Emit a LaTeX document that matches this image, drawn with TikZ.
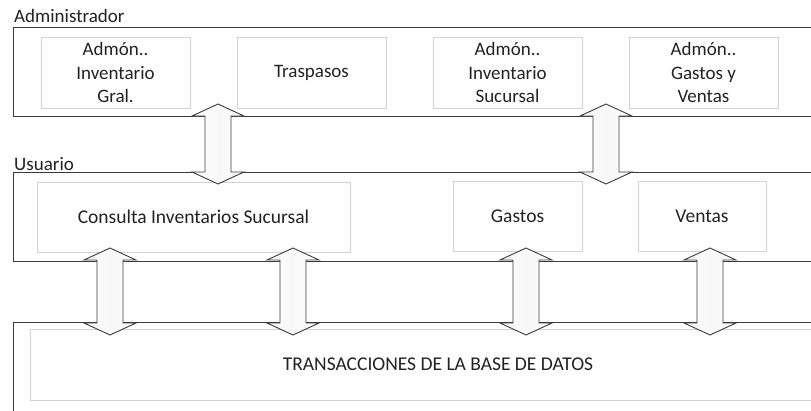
\documentclass[tikz,border=0pt]{standalone}
\usepackage{fontspec}
\setmainfont{Carlito}
\definecolor{linegray}{HTML}{3C3C3C}
\definecolor{boxgray}{HTML}{D2D2D2}
\definecolor{textgray}{HTML}{222222}
\tikzset{
  modbox/.style={draw=boxgray, line width=0.9pt, align=center, inner sep=0pt,
    text=textgray, font=\fontsize{19}{23.5}\selectfont},
  bigtext/.style={font=\fontsize{19.5}{24}\selectfont},
  layerlabel/.style={anchor=base west, inner sep=0pt, text=textgray,
    font=\fontsize{19}{22}\selectfont},
  layerline/.style={draw=linegray, line width=1pt},
  blockarrow/.style={draw=linegray, line width=0.9pt, left color=white,
    right color=white, middle color=black!3}
}
\begin{document}
\begin{tikzpicture}[x=1pt,y=-1pt]
\useasboundingbox (0,0) rectangle (811,410);
% capas
\draw[layerline] (815,27) -- (13,27) -- (13,116) -- (815,116);
\draw[layerline] (815,172) -- (13,172) -- (13,261) -- (815,261);
\draw[layerline] (815,322) -- (13,322) -- (13,414);
\node[layerlabel] (admin) at (14,22) {Administrador};
\node[layerlabel] (user) at (14,170) {Usuario};
% modulos del administrador
\node[modbox, minimum width=149, minimum height=71] (invgral) at (115.5,72.5) {Admón..\\Inventario\\Gral.};
\node[modbox, minimum width=149, minimum height=71] (trasp) at (311.5,72.5) {Traspasos};
\node[modbox, minimum width=149, minimum height=71] (invsuc) at (507.5,72.5) {Admón..\\Inventario\\Sucursal};
\node[modbox, minimum width=149, minimum height=71] (gastven) at (703.5,72.5) {Admón..\\Gastos y\\Ventas};
% modulos del usuario
\node[modbox, bigtext, minimum width=313, minimum height=70] (consulta) at (193.5,217) {Consulta Inventarios Sucursal};
\node[modbox, bigtext, minimum width=129, minimum height=70] (gastos) at (517.5,216) {Gastos};
\node[modbox, bigtext, minimum width=128, minimum height=70] (ventas) at (702,216) {Ventas};
% base de datos
\node[modbox, bigtext, minimum width=816, minimum height=71] (bd) at (438,364.5) {TRANSACCIONES DE LA BASE DE DATOS};
% flechas dobles
\foreach \c/\t/\b in {218/104/184, 606/104/184, 110/248/335, 293/248/335, 526/248/335, 710/248/335}{
  \shade[blockarrow] (\c,\t) -- (\c+26,\t+12) -- (\c+13,\t+12) -- (\c+13,\b-12)
    -- (\c+26,\b-12) -- (\c,\b) -- (\c-26,\b-12) -- (\c-13,\b-12)
    -- (\c-13,\t+12) -- (\c-26,\t+12) -- cycle;
}
\end{tikzpicture}
\end{document}
